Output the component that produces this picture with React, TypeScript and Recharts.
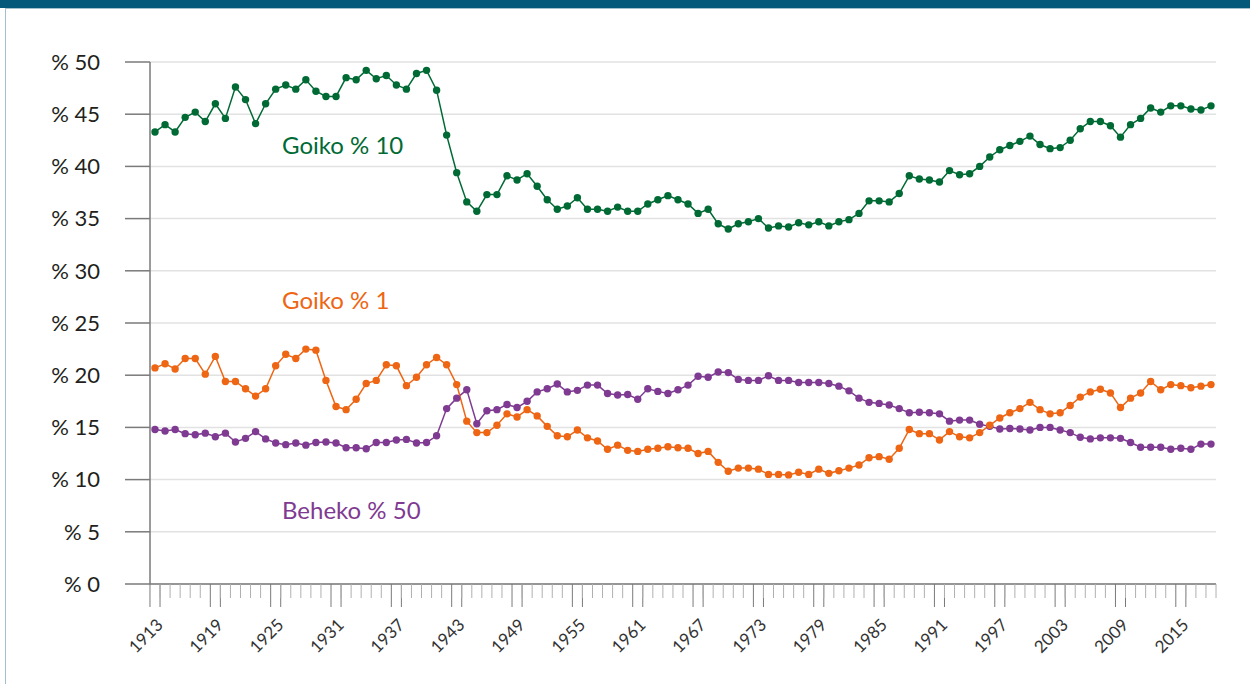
import { LineChart, Line, XAxis, YAxis, CartesianGrid } from "recharts";

// categories: one per year, 1913-2018
const years = Array.from({ length: 106 }, (_, i) => String(1913 + i));

// Goiko % 10 (top 10% share)
const top10 = [
    43.3, 44.0, 43.3, 44.7, 45.2, 44.3, 46.0, 44.6, 47.6, 46.4, // 1913-1922
    44.1, 46.0, 47.4, 47.8, 47.4, 48.3, 47.2, 46.7, 46.7, 48.5, // 1923-1932
    48.3, 49.2, 48.4, 48.7, 47.8, 47.4, 48.9, 49.2, 47.3, 43.0, // 1933-1942
    39.4, 36.6, 35.7, 37.3, 37.3, 39.1, 38.7, 39.3, 38.1, 36.8, // 1943-1952
    35.9, 36.2, 37.0, 35.9, 35.9, 35.7, 36.1, 35.7, 35.7, 36.4, // 1953-1962
    36.8, 37.2, 36.8, 36.4, 35.5, 35.9, 34.5, 34.0, 34.5, 34.7, // 1963-1972
    35.0, 34.1, 34.3, 34.2, 34.6, 34.4, 34.7, 34.3, 34.7, 34.9, // 1973-1982
    35.5, 36.7, 36.7, 36.6, 37.4, 39.1, 38.8, 38.7, 38.5, 39.6, // 1983-1992
    39.2, 39.3, 40.0, 40.9, 41.6, 42.0, 42.4, 42.9, 42.1, 41.7, // 1993-2002
    41.8, 42.5, 43.6, 44.3, 44.3, 43.9, 42.8, 44.0, 44.6, 45.6, // 2003-2012
    45.2, 45.8, 45.8, 45.5, 45.4, 45.8, // 2013-2018
];

// Goiko % 1 (top 1% share)
const top1 = [
    20.7, 21.1, 20.6, 21.6, 21.6, 20.1, 21.8, 19.4, 19.4, 18.7,
    18.0, 18.7, 20.9, 22.0, 21.6, 22.5, 22.4, 19.5, 17.0, 16.7,
    17.7, 19.2, 19.5, 21.0, 20.9, 19.0, 19.8, 21.0, 21.7, 21.0,
    19.1, 15.6, 14.5, 14.5, 15.2, 16.3, 16.0, 16.7, 16.1, 15.1,
    14.2, 14.1, 14.75, 14.0, 13.7, 12.9, 13.3, 12.8, 12.7, 12.9,
    13.0, 13.15, 13.05, 13.0, 12.5, 12.7, 11.65, 10.8, 11.1, 11.1,
    11.0, 10.5, 10.5, 10.45, 10.7, 10.5, 11.0, 10.6, 10.85, 11.1,
    11.4, 12.1, 12.2, 11.95, 13.0, 14.8, 14.4, 14.4, 13.8, 14.6,
    14.1, 14.0, 14.5, 15.2, 15.9, 16.4, 16.8, 17.4, 16.7, 16.3,
    16.4, 17.1, 17.9, 18.4, 18.65, 18.3, 16.9, 17.8, 18.3, 19.4,
    18.6, 19.1, 19.0, 18.8, 18.95, 19.1,
];

// Beheko % 50 (bottom 50% share)
const bottom50 = [
    14.8, 14.65, 14.8, 14.4, 14.3, 14.45, 14.1, 14.45, 13.6, 13.95,
    14.6, 13.9, 13.5, 13.35, 13.5, 13.3, 13.55, 13.6, 13.5, 13.05,
    13.05, 12.95, 13.55, 13.55, 13.8, 13.85, 13.5, 13.55, 14.2, 16.8,
    17.8, 18.6, 15.35, 16.6, 16.7, 17.2, 16.9, 17.5, 18.4, 18.7,
    19.15, 18.4, 18.55, 19.05, 19.05, 18.25, 18.1, 18.15, 17.7, 18.7,
    18.45, 18.25, 18.6, 19.05, 19.9, 19.8, 20.3, 20.25, 19.6, 19.5,
    19.5, 19.95, 19.5, 19.5, 19.3, 19.3, 19.3, 19.2, 18.95, 18.5,
    17.8, 17.4, 17.3, 17.15, 16.8, 16.4, 16.45, 16.4, 16.3, 15.6,
    15.7, 15.7, 15.3, 15.1, 14.85, 14.9, 14.85, 14.75, 15.0, 15.0,
    14.75, 14.5, 14.05, 13.9, 14.0, 14.0, 13.95, 13.55, 13.1, 13.1,
    13.1, 12.9, 13.0, 12.9, 13.4, 13.4,
];

const yTicks = [0, 5, 10, 15, 20, 25, 30, 35, 40, 45, 50];

const data = years.map((year, i) => ({
    year,
    top10: top10[i],
    top1: top1[i],
    bottom50: bottom50[i],
}));

const W = 1250;
const H = 684;
const LEFT = 150;
const RIGHT = 34;
const PAD = 5;
const STEP = (W - LEFT - RIGHT - 2 * PAD) / (years.length - 1);

const GREEN = "#006a35";
const ORANGE = "#ee6513";
const PURPLE = "#7f3a92";
const FONT = "Lato, 'Open Sans', sans-serif";

function YearTick(props: any) {
    const { x, y, payload, index } = props;
    const half = STEP / 2;
    const major = index % 6 === 0;
    const last = index === years.length - 1;
    return (
        <g>
            <line x1={x - half} x2={x - half} y1={y} y2={y + (major ? 23 : 14)} stroke={major ? "#7a7a7a" : "#b0b0b0"} strokeWidth={1} />
            {major && <line x1={x + half} x2={x + half} y1={y} y2={y + 23} stroke="#7a7a7a" strokeWidth={1} />}
            {last && !major && <line x1={x + half} x2={x + half} y1={y} y2={y + 14} stroke="#b0b0b0" strokeWidth={1} />}
            {major && (
                <text
                    transform={`translate(${x + 9},${y + 42}) rotate(-45)`}
                    textAnchor="end"
                    fontSize={17}
                    fontFamily={FONT}
                    fill="#333"
                >
                    {payload.value}
                </text>
            )}
        </g>
    );
}

const labelStyle = (color: string, top: number): React.CSSProperties => ({
    position: "absolute",
    left: 282,
    top,
    color,
    fontFamily: FONT,
    fontSize: 24,
    lineHeight: "30px",
    whiteSpace: "nowrap",
});

export default function App() {
    return (
        <div style={{ position: "absolute", left: 0, top: 0, width: W, height: H, background: "#fff", overflow: "hidden" }}>
            <div style={{ position: "absolute", left: 0, top: 0, width: W, height: 8, background: "#04587a" }} />
            <div style={{ position: "absolute", left: 5, top: 8, width: W, height: H, borderLeft: "1px solid #a3bfcd", borderTop: "1px solid #a3bfcd" }} />
            <div style={{ position: "absolute", left: 0, top: 0 }}>
                <LineChart width={W} height={H} data={data} margin={{ top: 62, right: RIGHT, bottom: 0, left: 0 }}>
                    <CartesianGrid vertical={false} stroke="#e2e2e2" strokeWidth={1.5} />
                    <XAxis
                        dataKey="year"
                        interval={0}
                        height={100}
                        padding={{ left: PAD, right: PAD }}
                        axisLine={{ stroke: "#7a7a7a", strokeWidth: 1.5 }}
                        tickLine={false}
                        tickSize={0}
                        tickMargin={0}
                        tick={<YearTick />}
                    />
                    <YAxis
                        width={LEFT}
                        domain={[0, 50]}
                        ticks={yTicks}
                        interval={0}
                        tickFormatter={(v) => `% ${v}`}
                        axisLine={{ stroke: "#7a7a7a", strokeWidth: 1.5 }}
                        tickLine={{ stroke: "#7a7a7a", strokeWidth: 1.5 }}
                        tickSize={25}
                        tickMargin={25}
                        tick={{ fontSize: 22, fontFamily: FONT, fill: "#231f20" }}
                    />
                    <Line dataKey="bottom50" stroke={PURPLE} strokeWidth={1.5} dot={{ r: 3.7, fill: PURPLE, stroke: PURPLE, strokeWidth: 0 }} isAnimationActive={false} />
                    <Line dataKey="top1" stroke={ORANGE} strokeWidth={1.5} dot={{ r: 3.7, fill: ORANGE, stroke: ORANGE, strokeWidth: 0 }} isAnimationActive={false} />
                    <Line dataKey="top10" stroke={GREEN} strokeWidth={1.5} dot={{ r: 3.7, fill: GREEN, stroke: GREEN, strokeWidth: 0 }} isAnimationActive={false} />
                </LineChart>
            </div>
            <div style={labelStyle(GREEN, 130)}>Goiko % 10</div>
            <div style={labelStyle(ORANGE, 285)}>Goiko % 1</div>
            <div style={labelStyle(PURPLE, 495)}>Beheko % 50</div>
        </div>
    );
}
